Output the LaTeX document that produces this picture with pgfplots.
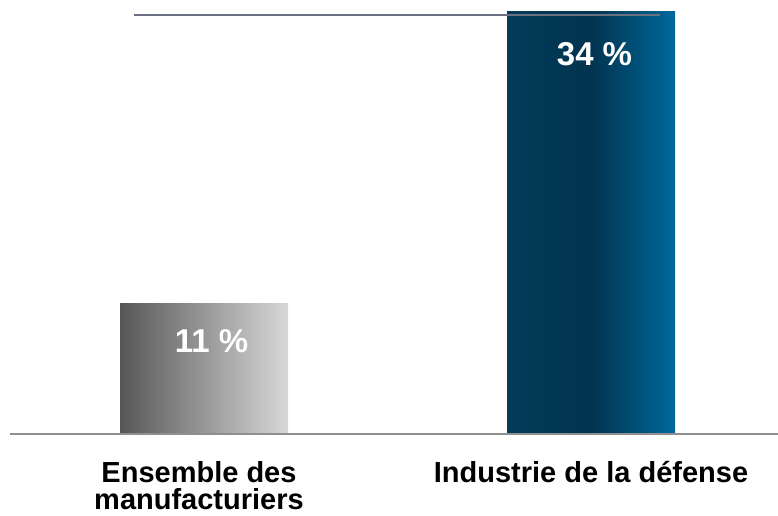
\documentclass[border=0pt]{standalone}
\usepackage{pgfplots}
\pgfplotsset{compat=1.18}
\usepackage{fontspec}
\setmainfont{Liberation Sans}
\definecolor{gL}{HTML}{575757}
\definecolor{gR}{HTML}{D8D8D8}
\definecolor{bL}{HTML}{033B58}
\definecolor{bM}{HTML}{01344F}
\definecolor{bR}{HTML}{00689C}
\definecolor{baseln}{HTML}{8F8F8F}
\definecolor{topln}{HTML}{6B7180}
\begin{document}
\begin{tikzpicture}
\path[use as bounding box] (0,0) rectangle (778pt,515pt);
\begin{axis}[
  at={(10pt,81pt)}, anchor=south west,
  scale only axis, width=768pt, height=434pt,
  xmin=-0.5013, xmax=1.4832, ymin=0.665, ymax=34.91,
  axis x line=bottom, axis y line=none,
  axis line style={baseln, line width=2.2pt, -},
  axis on top,
  xtick={1}, xticklabels={{Industrie de la défense}},
  extra x ticks={0}, extra x tick labels={{Ensemble des\\manufacturiers}},
  extra x tick style={xticklabel style={xshift=-5pt}},
  major tick length=0pt,
  xticklabel style={font=\bfseries\fontsize{29}{27.5}\selectfont, align=center, inner sep=0pt, anchor=north, yshift=-27pt},
  ytick=\empty,
  bar width=168pt, bar shift=0pt,
  clip=true,
]
\addplot[ybar, draw=none, left color=gL, right color=gR,
  nodes near coords={\pgfmathprintnumber[assume math mode=true]{\pgfplotspointmeta}~\%},
  every node near coord/.append style={white, font=\bfseries\fontsize{33}{33}\selectfont, anchor=center, xshift=7.5pt, yshift=-38.5pt}]
  coordinates {(0,11)};
\addplot[ybar, draw=none, left color=bL, right color=bR, middle color=bM,
  nodes near coords={\pgfmathprintnumber[assume math mode=true]{\pgfplotspointmeta}~\%},
  every node near coord/.append style={white, font=\bfseries\fontsize{33}{33}\selectfont, anchor=center, xshift=3.5pt, yshift=-43pt}]
  coordinates {(1,34)};
\addplot[topln, line width=2pt, no marks, sharp plot] coordinates {(-0.181,33.725) (1.178,33.725)};
\end{axis}
\end{tikzpicture}
\end{document}
